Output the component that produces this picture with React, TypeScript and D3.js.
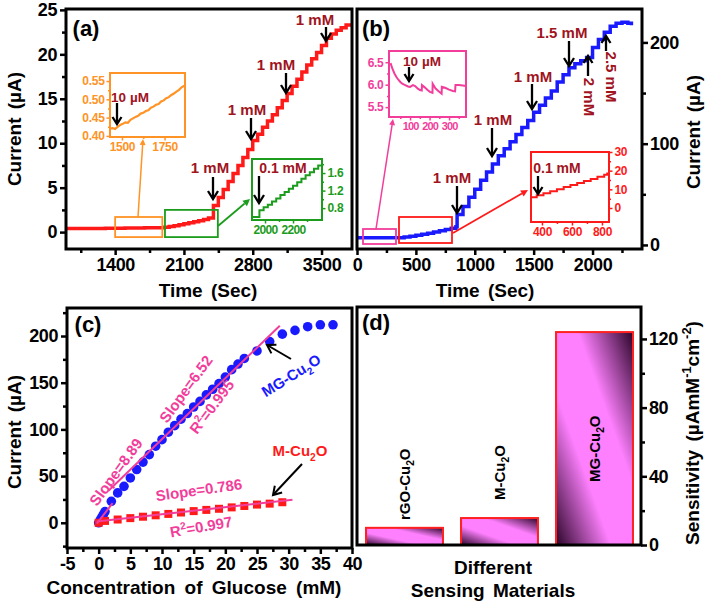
import React, { useEffect, useRef } from 'react';
import * as d3 from 'd3';

const FONT = "'Liberation Sans', Arial, sans-serif";
const RED = '#ff1a1a';
const BLUE = '#1a1aff';
const ORANGE = '#ff9326';
const GREEN = '#1c9c1c';
const PINK = '#f23d9b';
const DARK_RED = '#a0141e';

// (a) M-Cu2O amperometric response
const aTime = [900, 1100, 1300, 1500, 1700, 1900, 1950, 2000, 2050, 2100, 2150, 2200, 2250, 2300, 2350, 2400,
  2400, 2450, 2500, 2550, 2600, 2650, 2700, 2750, 2800, 2850, 2900, 2950, 3000, 3050, 3100, 3150,
  3200, 3250, 3300, 3350, 3400, 3450, 3500, 3550, 3600, 3650, 3700, 3750, 3800];
const aCurrent = [0.40, 0.42, 0.44, 0.46, 0.49, 0.55, 0.62, 0.72, 0.82, 0.93, 1.04, 1.16, 1.28, 1.42, 1.6, 1.8,
  3.0, 3.9, 4.8, 5.7, 6.6, 7.5, 8.4, 9.3, 10.3, 11.0, 11.8, 12.5, 13.2, 14.0, 14.8, 15.6,
  16.4, 17.2, 18.0, 18.8, 19.5, 20.2, 21.0, 21.8, 22.3, 22.7, 23.0, 23.3, 23.5];
const oTime = [1430, 1445, 1460, 1475, 1490, 1505, 1520, 1535, 1550, 1565, 1580, 1595, 1610, 1625, 1640,
  1655, 1670, 1685, 1700, 1715, 1730, 1745, 1760, 1775, 1790, 1805, 1820, 1835, 1850, 1865];
const oCurrent = [0.420, 0.421, 0.419, 0.425, 0.430, 0.433, 0.437, 0.436, 0.444, 0.448, 0.452, 0.455, 0.461, 0.463, 0.468,
  0.470, 0.477, 0.480, 0.485, 0.487, 0.494, 0.497, 0.503, 0.506, 0.512, 0.516, 0.521, 0.526, 0.533, 0.537];
const gTime = [1907, 1960, 1990, 2020, 2050, 2080, 2110, 2140, 2170, 2200, 2230, 2260, 2290, 2320, 2350, 2380, 2407];
const gCurrent = [0.60, 0.75, 0.82, 0.88, 0.95, 1.02, 1.10, 1.17, 1.24, 1.31, 1.39, 1.47, 1.55, 1.62, 1.70, 1.77, 1.77];

// (b) MG-Cu2O amperometric response
const bTime = [0, 100, 200, 300, 350, 400, 450, 500, 550, 600, 650, 700, 750, 800, 840, 850,
  900, 950, 1000, 1050, 1100, 1150, 1200, 1250, 1300, 1350, 1400, 1450, 1500, 1550, 1600, 1650,
  1700, 1750, 1800, 1850, 1900, 1950, 2000, 2050, 2100, 2150, 2200, 2250, 2300, 2330];
const bCurrent = [7, 7, 7, 7, 7.2, 7.8, 8.6, 9.5, 10.5, 11.6, 12.8, 14.0, 15.3, 16.6, 18.0, 30,
  38, 47, 55, 64, 72, 80, 88, 95, 102, 109, 116, 123, 131, 138, 145, 152,
  161, 168, 175, 179, 182, 185, 195, 203, 210, 216, 219, 220, 219, 217];
const pTime = [0, 10, 20, 30, 40, 50, 60, 75, 90, 100, 115, 126, 140, 151, 160, 161, 175, 190, 202, 215,
  216, 230, 245, 262, 263, 280, 300, 320, 331, 333, 350, 370, 387];
const pCurrent = [6.48, 6.35, 6.25, 6.17, 6.11, 6.06, 6.02, 5.99, 5.96, 5.95, 5.99, 5.97, 5.91, 5.88, 5.87, 5.99, 5.94, 5.88, 5.84, 5.82,
  6.02, 5.92, 5.86, 5.80, 5.95, 5.93, 5.89, 5.86, 5.85, 5.99, 5.99, 5.98, 5.97];
const rTime = [327, 365, 410, 455, 500, 545, 590, 635, 680, 725, 770, 815, 835, 847];
const rCurrent = [5.8, 6.8, 7.9, 9.0, 10.1, 11.2, 12.3, 13.4, 14.5, 15.6, 16.7, 17.8, 18.5, 18.5];

// (c) calibration
const mgConc = [0, 0.25, 0.5, 0.75, 1, 2, 3, 4, 5, 6, 7, 8, 9, 10, 11, 12, 13, 14, 15, 16, 17, 18, 19, 20, 21, 22, 23,
  25, 27, 29, 31, 33, 35, 37];
const mgCurrent = [0, 3, 6, 9, 12, 23, 32, 39, 48, 57, 65, 73, 82, 89, 97, 104, 111, 117, 124, 130, 137, 143, 149, 156, 164, 170, 176,
  184, 194, 202, 206, 210, 212, 212];
const mConc = [0, 1, 3, 5, 7, 9, 11, 13, 15, 17, 19, 21, 23, 25, 27, 29];
const mCurrent = [0, 2, 3.5, 5, 6.5, 8, 9.5, 11, 12.5, 13.8, 15, 16.5, 18, 19.5, 20.5, 22];
const fitLowX = [-0.3, 2.2];
const fitLowY = [-1, 21];
const fitHighX = [1.5, 28.6];
const fitHighY = [34, 211];
const fitMX = [-0.3, 30.6];
const fitMY = [1.5, 24.6];

// (d) sensitivity
const materials = ['rGO-Cu2O', 'M-Cu2O', 'MG-Cu2O'];
const sensitivity = [10, 15.7, 124];

// ticks
const aYTicks = [0, 5, 10, 15, 20, 25];
const aYMinor = [2.5, 7.5, 12.5, 17.5, 22.5];
const aXTicks = [1400, 2100, 2800, 3500];
const aXMinor = [1050, 1750, 2450, 3150];
const bYTicks = [0, 100, 200];
const bYMinor = [50, 150];
const bXTicks = [0, 500, 1000, 1500, 2000];
const bXMinor = [250, 750, 1250, 1750, 2250];
const cYTicks = [0, 50, 100, 150, 200];
const cYMinor = [-25, 25, 75, 125, 175, 225];
const cXTicks = [-5, 0, 5, 10, 15, 20, 25, 30, 35, 40];
const cXMinor = [-2.5, 2.5, 7.5, 12.5, 17.5, 22.5, 27.5, 32.5, 37.5];
const dYTicks = [0, 40, 80, 120];
const dYMinor = [20, 60, 100];

function addAxis(g: any, scale: any, orient: string, pos: number, major: number[], minor: number[], o: any) {
  const make = orient === 'left' ? d3.axisLeft : orient === 'right' ? d3.axisRight : d3.axisBottom;
  const shift = orient === 'bottom' ? `translate(0,${pos})` : `translate(${pos},0)`;
  const fmt = o.format || ((d: number) => String(d));
  const a = g.append('g').attr('transform', shift)
    .call(make(scale).tickValues(major).tickSize(o.tick).tickSizeOuter(0).tickPadding(o.pad).tickFormat(fmt));
  const m = g.append('g').attr('transform', shift)
    .call(make(scale).tickValues(minor).tickSize(o.minor).tickSizeOuter(0).tickFormat(() => ''));
  [a, m].forEach((s: any) => {
    s.select('.domain').remove();
    s.selectAll('line').attr('stroke', o.color).attr('stroke-width', o.width);
  });
  a.selectAll('text').attr('fill', o.color).attr('font-size', o.size)
    .attr('font-weight', 'bold').attr('font-family', FONT)
    .style('letter-spacing', o.spacing || '0px');
}

function frame(g: any, x0: number, y0: number, x1: number, y1: number, color: string, w: number) {
  g.append('rect').attr('x', x0).attr('y', y0).attr('width', x1 - x0).attr('height', y1 - y0)
    .attr('fill', 'none').attr('stroke', color).attr('stroke-width', w);
}

function arrow(g: any, x1: number, y1: number, x2: number, y2: number, color: string, w: number, head: number, half: number, filled = false) {
  const a = Math.atan2(y2 - y1, x2 - x1);
  const bx = x2 - head * Math.cos(a), by = y2 - head * Math.sin(a);
  const p1 = [bx + half * Math.sin(a), by - half * Math.cos(a)];
  const p2 = [bx - half * Math.sin(a), by + half * Math.cos(a)];
  if (filled) {
    g.append('line').attr('x1', x1).attr('y1', y1).attr('x2', bx).attr('y2', by)
      .attr('stroke', color).attr('stroke-width', w);
    g.append('path').attr('d', `M${p1}L${x2},${y2}L${p2}Z`).attr('fill', color);
  } else {
    g.append('line').attr('x1', x1).attr('y1', y1).attr('x2', x2 - Math.cos(a)).attr('y2', y2 - Math.sin(a))
      .attr('stroke', color).attr('stroke-width', w);
    g.append('path').attr('d', `M${p1}L${x2},${y2}L${p2}`).attr('fill', 'none')
      .attr('stroke', color).attr('stroke-width', w);
  }
}

function rich(g: any, parts: [string, number][], fs: number, color: string, transform: string, anchor = 'middle', ws = '0px') {
  const t = g.append('text').attr('font-size', fs).attr('font-weight', 'bold').attr('font-family', FONT)
    .attr('fill', color).attr('text-anchor', anchor).attr('transform', transform).style('word-spacing', ws);
  let cur = 0;
  parts.forEach(([s, k]) => {
    const target = k === -1 ? fs * 0.3 : k === 1 ? -fs * 0.4 : 0;
    t.append('tspan').attr('dy', target - cur).attr('font-size', k ? fs * 0.68 : fs).text(s);
    cur = target;
  });
  return t;
}

const label = (g: any, txt: string, x: number, y: number, fs: number, color: string, rot = 0, ws = '0px') =>
  g.append('text').attr('transform', `translate(${x},${y}) rotate(${rot})`).attr('dy', '0.35em')
    .attr('text-anchor', 'middle').attr('font-size', fs).attr('font-weight', 'bold')
    .attr('font-family', FONT).attr('fill', color).style('word-spacing', ws).text(txt);

const subName = (name: string): [string, number][] => {
  const i = name.indexOf('2');
  return [[name.slice(0, i), 0], ['2', -1], [name.slice(i + 1), 0]];
};

const App = () => {
  const ref = useRef<SVGSVGElement>(null);

  useEffect(() => {
    const svg = d3.select(ref.current);
    svg.selectAll('*').remove();
    svg.append('rect').attr('width', 708).attr('height', 606).attr('fill', '#fff');

    const grad = svg.append('defs').append('linearGradient').attr('id', 'barGrad')
      .attr('x1', 0).attr('y1', 1).attr('x2', 1).attr('y2', 0);
    [[0, '#2a0428'], [0.36, '#ff80ff'], [0.64, '#ff80ff'], [1, '#2a0428']].forEach(([o, c]) =>
      grad.append('stop').attr('offset', o).attr('stop-color', c));

    const mainAx = { tick: 6, minor: 4, pad: 3, color: '#000', width: 2.5, size: 18, spacing: '-0.4px' };
    const inAx = (color: string) => ({ tick: 3.5, minor: 2, pad: 2, color, width: 1.5, size: 12, spacing: '-0.3px' });
    const stepLine = (xs: number[], ys: number[], x: any, y: any, curve: any) =>
      d3.line<number>().x((d, i) => x(xs[i])).y(d => y(d)).curve(curve)(ys);

    // ---------- (a)
    const ga = svg.append('g');
    const xA = d3.scaleLinear().domain([900, 3810]).range([66, 352]);
    const yA = d3.scaleLinear().domain([-1.9, 25.1]).range([249, 9]);
    addAxis(ga, yA, 'left', 66, aYTicks, aYMinor, mainAx);
    addAxis(ga, xA, 'bottom', 249, aXTicks, aXMinor, mainAx);
    ga.append('path').attr('d', stepLine(aTime, aCurrent, xA, yA, d3.curveStepAfter))
      .attr('fill', 'none').attr('stroke', RED).attr('stroke-width', 3.5);
    frame(ga, xA(1400), yA(1.7), xA(1880), yA(-0.56), ORANGE, 1.8);
    frame(ga, xA(1907), yA(2.5), xA(2445), yA(-0.56), GREEN, 1.8);

    const xO = d3.scaleLinear().domain([1430, 1870]).range([110, 185]);
    const yO = d3.scaleLinear().domain([0.397, 0.572]).range([137, 73]);
    addAxis(ga, yO, 'left', 110, [0.40, 0.45, 0.50, 0.55], [0.425, 0.475, 0.525], { ...inAx(ORANGE), format: d3.format('.2f') });
    addAxis(ga, xO, 'bottom', 137, [1500, 1750], [1625], inAx(ORANGE));
    ga.append('path').attr('d', stepLine(oTime, oCurrent, xO, yO, d3.curveLinear))
      .attr('fill', 'none').attr('stroke', ORANGE).attr('stroke-width', 2.2);
    frame(ga, 110, 73, 185, 137, ORANGE, 2);

    const xG = d3.scaleLinear().domain([1907, 2407]).range([252, 322]);
    const yG = d3.scaleLinear().domain([0.53, 1.92]).range([220, 159]);
    addAxis(ga, yG, 'right', 322, [0.8, 1.2, 1.6], [1.0, 1.4, 1.8], { ...inAx(GREEN), format: d3.format('.1f') });
    addAxis(ga, xG, 'bottom', 220, [2000, 2200], [2100, 2300], { ...inAx(GREEN), spacing: '-0.6px' });
    ga.append('path').attr('d', stepLine(gTime, gCurrent, xG, yG, d3.curveStepAfter))
      .attr('fill', 'none').attr('stroke', GREEN).attr('stroke-width', 2);
    frame(ga, 252, 159, 322, 220, GREEN, 2);

    arrow(ga, 138, 217, 143, 139, ORANGE, 1.5, 6, 3, true);
    arrow(ga, 218, 226, 250, 199, GREEN, 1.8, 7, 3.5, true);

    label(ga, '10 µM', 130, 97, 13.5, DARK_RED);
    arrow(ga, 117, 103, 117, 124, '#000', 2.3, 7, 4.5);
    label(ga, '0.1 mM', 283, 168, 14, DARK_RED);
    arrow(ga, 259, 176, 259, 203, '#000', 2.3, 8, 5);
    label(ga, '1 mM', 210, 168, 15, DARK_RED);
    arrow(ga, 213, 177, 213, 199, '#000', 2.3, 8, 5);
    label(ga, '1 mM', 247, 110, 15, DARK_RED);
    arrow(ga, 251, 118, 251, 139, '#000', 2.3, 8, 5);
    label(ga, '1 mM', 276, 65, 15, DARK_RED);
    arrow(ga, 286, 73, 286, 93, '#000', 2.3, 8, 5);
    label(ga, '1 mM', 315, 20, 15, DARK_RED);
    arrow(ga, 326, 27, 326, 41, '#000', 2.3, 8, 5);

    frame(ga, 66, 9, 352, 249, '#000', 3);
    label(ga, '(a)', 86, 28, 22, '#000');
    label(ga, 'Current (µA)', 14, 129, 19, '#000', -90, '3px');
    label(ga, 'Time (Sec)', 208, 290, 19, '#000', 0, '3px');

    // ---------- (b)
    const gb = svg.append('g');
    const xB = d3.scaleLinear().domain([0, 2420]).range([357, 642]);
    const yB = d3.scaleLinear().domain([-4, 233]).range([249, 9]);
    addAxis(gb, yB, 'right', 642, bYTicks, bYMinor, { ...mainAx, pad: 2 });
    addAxis(gb, xB, 'bottom', 249, bXTicks, bXMinor, mainAx);
    gb.append('path').attr('d', stepLine(bTime, bCurrent, xB, yB, d3.curveStepAfter))
      .attr('fill', 'none').attr('stroke', BLUE).attr('stroke-width', 3.5);
    frame(gb, 363, 229, 396, 244, PINK, 1.8);
    frame(gb, 399, 217, 452, 243, RED, 1.8);

    const xP = d3.scaleLinear().domain([-8, 387]).range([389, 466]);
    const yP = d3.scaleLinear().domain([5.28, 6.75]).range([117, 51]);
    addAxis(gb, yP, 'left', 389, [5.5, 6.0, 6.5], [5.75, 6.25], { ...inAx(PINK), format: d3.format('.1f') });
    addAxis(gb, xP, 'bottom', 117, [100, 200, 300], [50, 150, 250, 350], { ...inAx(PINK), size: 11, spacing: '-0.9px' });
    gb.append('path').attr('d', stepLine(pTime, pCurrent, xP, yP, d3.curveLinear))
      .attr('fill', 'none').attr('stroke', PINK).attr('stroke-width', 2);
    frame(gb, 389, 51, 466, 117, PINK, 2);

    const xR = d3.scaleLinear().domain([327, 847]).range([531, 609]);
    const yR = d3.scaleLinear().domain([-7.5, 30]).range([222, 152]);
    addAxis(gb, yR, 'right', 609, [0, 10, 20, 30], [5, 15, 25], inAx(RED));
    addAxis(gb, xR, 'bottom', 222, [400, 600, 800], [500, 700], inAx(RED));
    gb.append('path').attr('d', stepLine(rTime, rCurrent, xR, yR, d3.curveStepAfter))
      .attr('fill', 'none').attr('stroke', RED).attr('stroke-width', 2);
    frame(gb, 531, 152, 609, 222, RED, 2);

    arrow(gb, 376, 229, 393, 119, PINK, 1.5, 6, 3, true);
    arrow(gb, 453, 233, 528, 190, RED, 1.8, 7, 3.5, true);

    label(gb, '10 µM', 422, 61, 13.5, DARK_RED);
    arrow(gb, 409, 67, 409, 81, '#000', 2.3, 7, 4.5);
    label(gb, '0.1 mM', 557, 168, 14, DARK_RED);
    arrow(gb, 538, 176, 538, 194, '#000', 2.3, 7, 4.5);
    label(gb, '1 mM', 452, 178, 15, DARK_RED);
    arrow(gb, 457, 186, 457, 213, '#000', 2.3, 8, 5);
    label(gb, '1 mM', 493, 120, 15, DARK_RED);
    arrow(gb, 492, 128, 492, 156, '#000', 2.3, 8, 5);
    label(gb, '1 mM', 533, 77, 15, DARK_RED);
    arrow(gb, 532, 84, 532, 109, '#000', 2.3, 8, 5);
    label(gb, '1.5 mM', 562, 33, 15, DARK_RED);
    arrow(gb, 569, 41, 569, 66, '#000', 2.3, 8, 5);
    label(gb, '2 mM', 589, 97, 15, DARK_RED, 90);
    arrow(gb, 588, 76, 588, 56, '#000', 2.3, 7, 4.5);
    label(gb, '2.5 mM', 611, 77, 15, DARK_RED, 90);
    arrow(gb, 606, 51, 606, 36, '#000', 2.3, 7, 4.5);

    frame(gb, 357, 9, 642, 249, '#000', 3);
    label(gb, '(b)', 376, 28, 22, '#000');
    label(gb, 'Current (µA)', 693, 132, 19, '#000', -90, '3px');
    label(gb, 'Time (Sec)', 485, 290, 19, '#000', 0, '3px');

    // ---------- (c)
    const gc = svg.append('g');
    const xC = d3.scaleLinear().domain([-5, 40]).range([67, 352]);
    const yC = d3.scaleLinear().domain([-27, 230]).range([548, 308]);
    addAxis(gc, yC, 'left', 67, cYTicks, cYMinor, mainAx);
    addAxis(gc, xC, 'bottom', 548, cXTicks, cXMinor, mainAx);
    gc.selectAll('.mg').data(mgCurrent).enter().append('circle')
      .attr('cx', (d, i) => xC(mgConc[i])).attr('cy', d => yC(d)).attr('r', 4.8).attr('fill', BLUE);
    gc.selectAll('.mc').data(mCurrent).enter().append('rect')
      .attr('x', (d, i) => xC(mConc[i]) - 4).attr('y', d => yC(d) - 4)
      .attr('width', 8).attr('height', 8).attr('fill', RED);
    const fit = d3.line<number>().x(d => xC(d[0])).y(d => yC(d[1]));
    [[fitLowX, fitLowY], [fitHighX, fitHighY], [fitMX, fitMY]].forEach(([fx, fy]) =>
      gc.append('path').attr('d', fit(fx.map((v, i) => [v, fy[i]]) as any))
        .attr('fill', 'none').attr('stroke', PINK).attr('stroke-width', 2));

    label(gc, 'Slope=8.89', 116, 472, 15, PINK, -54);
    label(gc, 'Slope=6.52', 186, 389, 15, PINK, -54);
    rich(gc, [['R', 0], ['2', 1], ['=0.995', 0]], 15, PINK, 'translate(216,410) rotate(-53)').attr('dy', '0.35em');
    label(gc, 'Slope=0.786', 199, 490, 15, PINK, -8);
    rich(gc, [['R', 0], ['2', 1], ['=0.997', 0]], 15, PINK, 'translate(202,532) rotate(-10)');
    rich(gc, subName('MG-Cu2O'), 15, BLUE, 'translate(294,380) rotate(-32)');
    rich(gc, subName('M-Cu2O'), 15, RED, 'translate(300,456)');
    arrow(gc, 291, 359, 267, 345, '#000', 2, 8, 5);
    arrow(gc, 302, 464, 273, 495, '#000', 2, 8, 5);

    frame(gc, 67, 308, 352, 548, '#000', 3);
    label(gc, '(c)', 88, 324, 22, '#000');
    label(gc, 'Current (µA)', 14, 432, 19, '#000', -90, '3px');
    label(gc, 'Concentration of Glucose (mM)', 194, 587, 19, '#000', 0, '4px');

    // ---------- (d)
    const gd = svg.append('g');
    const xD = d3.scaleBand().domain(materials).range([357, 642]).paddingInner(0.19).paddingOuter(0.095);
    const yD = d3.scaleLinear().domain([0, 138.6]).range([545, 307]);
    addAxis(gd, yD, 'right', 641, dYTicks, dYMinor, { ...mainAx, pad: 2 });
    gd.selectAll('.bar').data(sensitivity).enter().append('rect')
      .attr('x', (d, i) => xD(materials[i]) as number).attr('y', d => yD(d))
      .attr('width', xD.bandwidth()).attr('height', d => yD(0) - yD(d))
      .attr('fill', 'url(#barGrad)').attr('stroke', '#ff2020').attr('stroke-width', 2);
    const barLabelBase = [520, 500, 482];
    materials.forEach((m, i) => {
      const cx = (xD(m) as number) + xD.bandwidth() / 2;
      rich(gd, subName(m), 15, '#000', `translate(${cx + 5},${barLabelBase[i]}) rotate(-90)`, 'start');
    });

    frame(gd, 357, 307, 641, 545, '#000', 3);
    label(gd, '(d)', 376, 322, 22, '#000');
    label(gd, 'Different', 493, 567, 19, '#000');
    label(gd, 'Sensing Materials', 493, 590, 19, '#000', 0, '3px');
    rich(gd, [['Sensitivity (µAmM', 0], ['-1', 1], ['cm', 0], ['-2', 1], [')', 0]], 19, '#000',
      'translate(699,433) rotate(-90)', 'middle', '3px');
  }, []);

  return <svg ref={ref} width={708} height={606} style={{ position: 'absolute', left: 0, top: 0, display: 'block' }} />;
};

export default App;
